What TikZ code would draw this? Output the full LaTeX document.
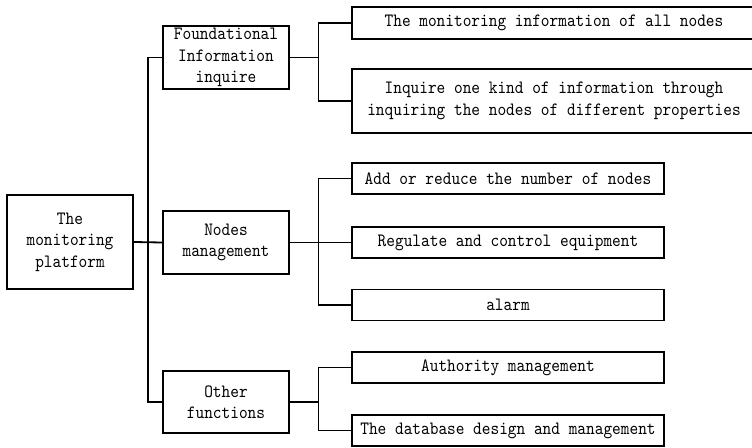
\documentclass[tikz,border=0pt]{standalone}
\usepackage{fontspec}
\usetikzlibrary{positioning}

% narrow typewriter face for the box labels
\newfontfamily\boxfont{lmmono10-regular.otf}[FakeStretch=0.88]

\begin{document}
\begin{tikzpicture}[%
            x=1pt, y=-1pt,
            mybox/.style={draw, line width=1.8pt, align=center, inner sep=0pt,
                font=\fontsize{18.8}{21.5}\boxfont},
            myline/.style={line width=1.8pt}
    ]
    \useasboundingbox (0,0) rectangle (752,447);

    % root and the three groups
    \node [mybox, minimum width=126, minimum height=94] (root) at (70,242)
        {The\\monitoring\\platform};
    \node [mybox, minimum width=126, minimum height=63] (found) at (226,57.5)
        {Foundational\\Information\\inquire};
    \node [mybox, minimum width=126, minimum height=63] (mgmt) at (226,242.5)
        {Nodes\\management};
    \node [mybox, minimum width=126, minimum height=62] (other) at (226,402)
        {Other\\functions};

    % leaves
    \node [mybox, minimum width=404, minimum height=32] (allnodes) at (554,23)
        {The monitoring information of all nodes};
    \node [mybox, minimum width=404, minimum height=64] (kind) at (554,101)
        {Inquire one kind of information through\\inquiring the nodes of different properties};
    \foreach \name/\y/\txt in {%
            add/178.5/Add or reduce the number of nodes,
            regulate/242.5/Regulate and control equipment,
            alarm/305/alarm,
            auth/367.5/Authority management,
            db/430.5/The database design and management}
        \node [mybox, minimum width=312, minimum height=31] (\name) at (508,\y) {\txt};

    \coordinate (trunk) at (148,0);
    \coordinate (sub) at (318.5,0);

    \draw [myline] (root.east) -- (mgmt.west);
    \draw [myline] (found.west) -| (trunk |- other.west) -- (other.west);

    \draw [myline] (found.east) -- (found.east -| sub);
    \draw [myline] (allnodes.west) -| (sub |- kind.west) -- (kind.west);

    \draw [myline] (mgmt.east) -- (regulate.west);
    \draw [myline] (add.west) -| (sub |- alarm.west) -- (alarm.west);

    \draw [myline] (other.east) -- (other.east -| sub);
    \draw [myline] (auth.west) -| (sub |- db.west) -- (db.west);
\end{tikzpicture}
\end{document}
